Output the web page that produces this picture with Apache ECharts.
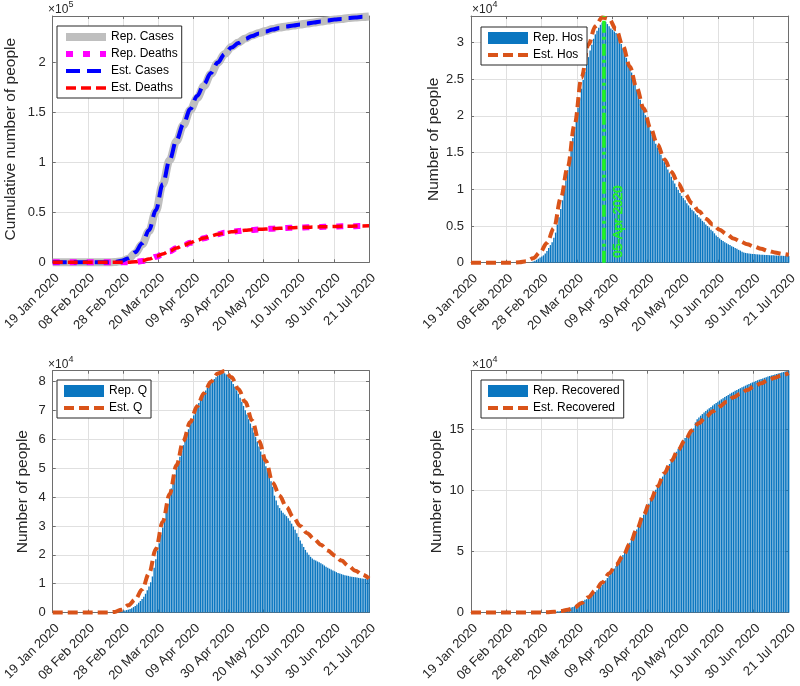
<!DOCTYPE html>
<html>
<head>
<meta charset="utf-8">
<script src="https://cdn.jsdelivr.net/npm/echarts/dist/echarts.min.js"></script>
<style>
html,body{margin:0;padding:0;background:#fff;}
#c{width:800px;height:686px;}
</style>
</head>
<body>
<div id="c"></div>
<script>
// ---------------- DATA ----------------
const startDateUTC = Date.UTC(2020, 0, 19);   // 19 Jan 2020 = day 0
const nDays = 184;                              // 21 Jul 2020
const xTickSteps = 9;
const monthNames = ['Jan','Feb','Mar','Apr','May','Jun','Jul','Aug','Sep','Oct','Nov','Dec'];

// days at which the smooth (cumulative / estimated) curves are sampled
const estDays = [0,4,8,12,16,20,24,28,32,36,40,44,48,52,56,60,64,68,72,76,80,84,88,92,96,100,
  104,108,112,116,120,124,128,132,136,140,144,148,152,156,160,164,168,172,176,180,184];

// panel 1: cumulative cases & deaths
const repCases = [0,0,0,0,0,0,0,0,0,200,1100,3500,9000,18000,31000,51000,78000,102000,121000,137000,152000,
  164000,176000,188000,199000,208000,215000,219500,223500,226500,229000,231000,233000,234500,235500,236500,
  237500,238500,239500,240500,241500,242500,243000,244000,244500,245000,245500];
const estCases = [0,0,0,0,0,0,0,0,0,300,1500,4000,10000,19000,32000,52000,78000,102000,122000,138000,153000,
  166000,178000,189000,199500,208000,214500,219000,223000,226000,228500,230500,232500,234000,235500,236500,
  237500,238500,239500,240500,241500,242500,243000,244000,244500,245200,245800];
const repDeaths = [0,0,0,0,0,0,0,0,0,0,0,0,300,1200,3000,5500,8000,11000,14000,16500,19500,22000,24000,26000,
  28000,29500,30500,31200,31800,32300,32800,33200,33600,34000,34300,34500,34700,34900,35100,35300,35500,
  35700,35900,36000,36100,36200,36300];
const estDeaths = [0,0,0,0,0,0,0,0,0,0,0,0,500,1500,3200,5700,8300,11200,14200,16800,19500,22000,24200,26200,
  27900,29300,30400,31200,31900,32400,32900,33300,33700,34000,34300,34600,34800,35000,35200,35400,35600,
  35700,35900,36000,36200,36300,36400];

// panels 2-4: estimated curves
const estHos = [0,0,0,0,0,0,0,50,200,600,1400,2700,4700,8800,13000,18800,25200,29700,32200,33400,33200,31800,
  29500,26700,23800,21000,18300,16100,14100,12400,10800,9300,8100,7000,6000,5200,4500,3900,3300,2900,2500,
  2200,1900,1600,1400,1200,1050];
const estQ = [0,0,0,0,0,0,0,0,0,200,1000,2500,4500,8000,13500,22000,31500,41000,51000,59500,66000,71500,76000,
  80000,82800,83700,81500,77500,73000,66500,59500,52500,45000,40500,36500,33000,30000,27500,25500,23500,
  21500,19800,18000,16200,14500,13200,11800];
const estRecovered = [0,0,0,0,0,0,0,0,0,0,100,300,600,1200,2200,4200,7800,12500,18000,24500,32000,39000,46000,
  56000,68000,80000,92000,103000,114000,124000,133000,141000,149000,155000,160000,164500,168500,172500,
  176000,179000,182000,185000,187500,190000,192000,194000,195800];

// panels 2-4: reported daily values (day 0 ... day 184)
const repHos = [
  0,0,0,0,0,0,0,0,0,0,
  0,0,0,0,0,0,0,0,0,0,
  0,0,0,0,0,0,0,0,0,0,
  0,0,0,0,0,100,150,250,400,550,
  700,850,1000,1250,1600,2000,2400,2800,3400,4100,
  5200,6200,7300,8500,9800,11200,12600,14000,15500,17000,
  18400,19800,21100,22400,23700,24900,26000,27000,28000,28900,
  29700,30500,31100,31600,32000,32400,32700,32900,32800,32500,
  32200,31900,31700,31500,31300,30900,30400,29800,29100,28500,
  27900,27300,26600,25900,25200,24400,23600,22900,22200,21500,
  20800,20100,19400,18700,18000,17400,16800,16200,15700,15200,
  14700,14200,13700,13200,12700,12200,11700,11200,10800,10300,
  9900,9500,9100,8800,8500,8100,7800,7500,7200,7000,
  6700,6500,6200,6000,5700,5500,5200,5000,4800,4500,
  4300,4000,3700,3500,3300,3100,2950,2800,2650,2500,
  2400,2250,2150,2000,1900,1750,1650,1500,1400,1330,
  1280,1240,1210,1190,1170,1150,1130,1110,1090,1070,
  1060,1050,1040,1030,1010,1000,990,970,960,950,
  940,930,920,910,900];
const repQ = [
  0,0,0,0,0,0,0,0,0,0,
  0,0,0,0,0,0,0,0,0,0,
  0,0,0,0,0,0,0,0,0,0,
  0,0,0,0,0,0,0,50,150,250,
  400,550,700,850,1000,1200,1500,1900,2300,2800,
  3400,4000,4700,5500,6500,7700,9000,10500,12500,15500,
  18500,21500,24000,27000,29500,32000,34500,37500,40500,43000,
  45500,47800,50000,52000,54000,56000,58000,60000,61800,63500,
  65200,66800,68300,69800,71200,72600,74000,75000,75800,76900,
  77900,78800,79600,80300,80900,81500,82000,82500,82900,83100,
  82900,82500,81900,81000,80200,79200,78200,77000,75800,74400,
  73000,71600,70100,68600,67000,65500,64000,62400,60800,59200,
  57500,55800,54100,52400,50700,49000,47200,45500,43600,40500,
  38800,37200,36200,35300,34600,34000,33400,32700,31800,30800,
  29800,28700,27500,26200,25000,23800,22700,21700,20800,20000,
  19300,18700,18300,18000,17700,17400,17100,16700,16300,15900,
  15500,15200,14900,14600,14300,14000,13700,13500,13300,13100,
  12900,12800,12700,12500,12400,12300,12200,12100,12000,11900,
  11800,11750,11700,11650,11600];
const repRecovered = [
  0,0,0,0,0,0,0,0,0,0,
  0,0,0,0,0,0,0,0,0,0,
  0,0,0,0,0,0,0,0,0,0,
  0,0,0,0,0,0,0,0,20,40,
  50,80,150,160,280,410,520,590,620,720,
  1000,1050,1260,1440,1970,2340,2750,2940,4030,4440,
  5130,6070,7020,7430,8330,9360,10360,10950,12380,13030,
  14620,15730,16850,18280,19760,21000,22800,24400,26300,28200,
  30000,32000,34000,36000,38000,40500,42500,44800,47000,49400,
  51800,54500,57000,59600,62300,65000,68000,71000,74000,77000,
  80000,83000,86000,89000,92000,95000,97800,100500,103200,105800,
  108500,111200,114000,116500,119000,121500,124000,126500,129000,131500,
  134000,136500,138800,140800,142800,144500,146200,147800,149200,150500,
  155500,158000,159500,161000,162300,163600,164800,166000,167100,168200,
  169300,170400,171400,172400,173400,174400,175300,176200,177100,178000,
  178900,179700,180500,181300,182100,182800,183500,184200,184900,185600,
  186300,187000,187600,188200,188800,189400,190000,190500,191000,191500,
  192000,192500,193000,193500,193900,194300,194700,195100,195500,195900,
  196300,196700,197100,197500,197800];

const hosPeakDay = 77;
const hosPeakLabel = '05-Apr-2020';

const yAxisMax = [246000, 33600, 83800, 197800];
const yAxisStep = [50000, 5000, 10000, 50000];
const yAxisScale = [1e5, 1e4, 1e4, 1e4];
const yAxisExp = ['5', '4', '4', '4'];
const yAxisTitles = ['Cumulative number of people', 'Number of people', 'Number of people', 'Number of people'];

// ---------------- STYLE / LAYOUT ----------------
const FONT = '"Liberation Sans", Arial, Helvetica, sans-serif';
const TXT = '#262626';
const BOX = '#6e6e6e';
const GRIDC = '#e0e0e0';
const GREEN = '#22F522';
const grids = [
  {left: 47, top: 16, width: 322, height: 246.3},
  {left: 471, top: 16, width: 321, height: 246.7},
  {left: 47, top: 370.7, width: 322, height: 245.3},
  {left: 471, top: 370.7, width: 321, height: 245.3}
];
const yNameGap = [34, 29, 22, 26];

function dayLabel(v) {
  const d = new Date(startDateUTC + Math.floor(v + 0.01) * 86400000);
  return String(d.getUTCDate()).padStart(2, '0') + ' ' + monthNames[d.getUTCMonth()] + ' ' + d.getUTCFullYear();
}
const pairs = (xs, ys) => xs.map((x, i) => [x, ys[i]]);
const dayIndex = repHos.map((_, i) => i);

const xAxes = [], yAxes = [];
for (let pass = 0; pass < 2; pass++) {
  grids.forEach((g, i) => {
    const main = pass === 0;
    xAxes.push({
      type: 'value', gridIndex: i, min: 0, max: nDays, interval: nDays / xTickSteps,
      position: main ? 'bottom' : 'top',
      axisLine: {show: true, onZero: false, lineStyle: {color: BOX, width: 1}},
      axisTick: {show: true, inside: true, length: 3, lineStyle: {color: BOX, width: 1}},
      axisLabel: main ? {show: true, rotate: 45, margin: 9, align: 'right', verticalAlign: 'top',
        fontSize: 13, color: TXT, fontFamily: FONT, formatter: dayLabel,
        showMinLabel: true, showMaxLabel: true} : {show: false},
      splitLine: {show: main, lineStyle: {color: GRIDC, width: 1}}
    });
    yAxes.push({
      type: 'value', gridIndex: i, min: 0, max: yAxisMax[i], interval: yAxisStep[i],
      position: main ? 'left' : 'right',
      axisLine: {show: true, onZero: false, lineStyle: {color: BOX, width: 1}},
      axisTick: {show: true, inside: true, length: 3, lineStyle: {color: BOX, width: 1}},
      axisLabel: main ? {show: true, margin: 7, fontSize: 13, color: TXT, fontFamily: FONT,
        showMaxLabel: false, formatter: v => String(+(v / yAxisScale[i]).toFixed(3))} : {show: false},
      splitLine: {show: main, lineStyle: {color: GRIDC, width: 1}},
      name: main ? yAxisTitles[i] : '',
      nameLocation: 'middle', nameRotate: 90, nameGap: yNameGap[i],
      nameTextStyle: {fontSize: 15.5, color: TXT, fontFamily: FONT}
    });
  });
}

function line(name, gi, xs, ys, color, width, dash, extra) {
  return Object.assign({
    type: 'line', name: name, xAxisIndex: gi, yAxisIndex: gi,
    data: pairs(xs, ys), showSymbol: false, symbol: 'none', smooth: 0.35, smoothMonotone: 'x',
    clip: false, silent: true,
    lineStyle: {color: color, width: width, type: dash, cap: 'butt', join: 'round'},
    itemStyle: {color: color}
  }, extra || {});
}
function bars(name, gi, ys) {
  return {
    type: 'bar', name: name, xAxisIndex: gi, yAxisIndex: gi,
    data: pairs(dayIndex, ys), barWidth: '80%', silent: true,
    itemStyle: {color: '#0A76C0'}
  };
}
const ORANGE = '#D95319';

const series = [
  line('Rep. Cases', 0, estDays, repCases, '#BFBFBF', 8, 'solid'),
  line('Rep. Deaths', 0, estDays, repDeaths, '#FF00FF', 6, [7, 10]),
  line('Est. Cases', 0, estDays, estCases, '#0000FF', 4, [14, 7]),
  line('Est. Deaths', 0, estDays, estDeaths, '#FF0000', 3.5, [10, 5]),

  bars('Rep. Hos', 1, repHos),
  line('Est. Hos', 1, estDays, estHos, ORANGE, 4, [10, 5]),
  line('peak', 1, [hosPeakDay, hosPeakDay], [0, yAxisMax[1]], GREEN, 3.5, [12, 4, 3, 4], {smooth: false, z: 5}),

  bars('Rep. Q', 2, repQ),
  line('Est. Q', 2, estDays, estQ, ORANGE, 4, [10, 5]),

  bars('Rep. Recovered', 3, repRecovered),
  line('Est. Recovered', 3, estDays, estRecovered, ORANGE, 4, [10, 5])
];

const lineItem = name => ({name: name, itemStyle: {opacity: 0}});
const barItem = name => ({name: name, icon: 'rect'});
const legendBase = {
  orient: 'vertical', itemWidth: 40, itemHeight: 12, itemGap: 5, padding: [5, 4, 4, 5],
  borderColor: TXT, borderWidth: 1, backgroundColor: '#fff', borderRadius: 0,
  lineStyle: {width: 'inherit', type: 'inherit', cap: 'butt'},
  textStyle: {fontSize: 12, color: '#000', fontFamily: FONT}, selectedMode: false
};
const legends = [
  Object.assign({}, legendBase, {left: 57, top: 26,
    data: ['Rep. Cases', 'Rep. Deaths', 'Est. Cases', 'Est. Deaths'].map(lineItem)}),
  Object.assign({}, legendBase, {left: 481, top: 27, data: [barItem('Rep. Hos'), lineItem('Est. Hos')]}),
  Object.assign({}, legendBase, {left: 57, top: 380, data: [barItem('Rep. Q'), lineItem('Est. Q')]}),
  Object.assign({}, legendBase, {left: 481, top: 380, data: [barItem('Rep. Recovered'), lineItem('Est. Recovered')]})
];

const graphics = [];
grids.forEach((g, i) => {
  graphics.push({type: 'text', x: g.left + 1, y: g.top - 0.5, silent: true, z: 100,
    style: {text: '×10', fontSize: 12, fontFamily: FONT, fill: TXT, align: 'left', verticalAlign: 'bottom'}});
  graphics.push({type: 'text', x: g.left + 21.5, y: g.top - 6.5, silent: true, z: 100,
    style: {text: yAxisExp[i], fontSize: 9, fontFamily: FONT, fill: TXT, align: 'left', verticalAlign: 'bottom'}});
});

const chart = echarts.init(document.getElementById('c'), null, {renderer: 'canvas'});
chart.setOption({
  animation: false,
  backgroundColor: '#fff',
  grid: grids,
  xAxis: xAxes,
  yAxis: yAxes,
  legend: legends,
  series: series,
  graphic: graphics
});

// annotation next to the peak line, positioned through the axis scales
const p = chart.convertToPixel({xAxisIndex: 1, yAxisIndex: 1}, [hosPeakDay, 0]);
graphics.push({type: 'text', x: p[0] + 14, y: p[1] - 5, rotation: Math.PI / 2, silent: true, z: 100,
  style: {text: hosPeakLabel, fontSize: 13, fontFamily: FONT, fill: GREEN, stroke: GREEN, lineWidth: 0.6,
    align: 'left', verticalAlign: 'middle'}});
chart.setOption({graphic: graphics});
</script>
</body>
</html>
